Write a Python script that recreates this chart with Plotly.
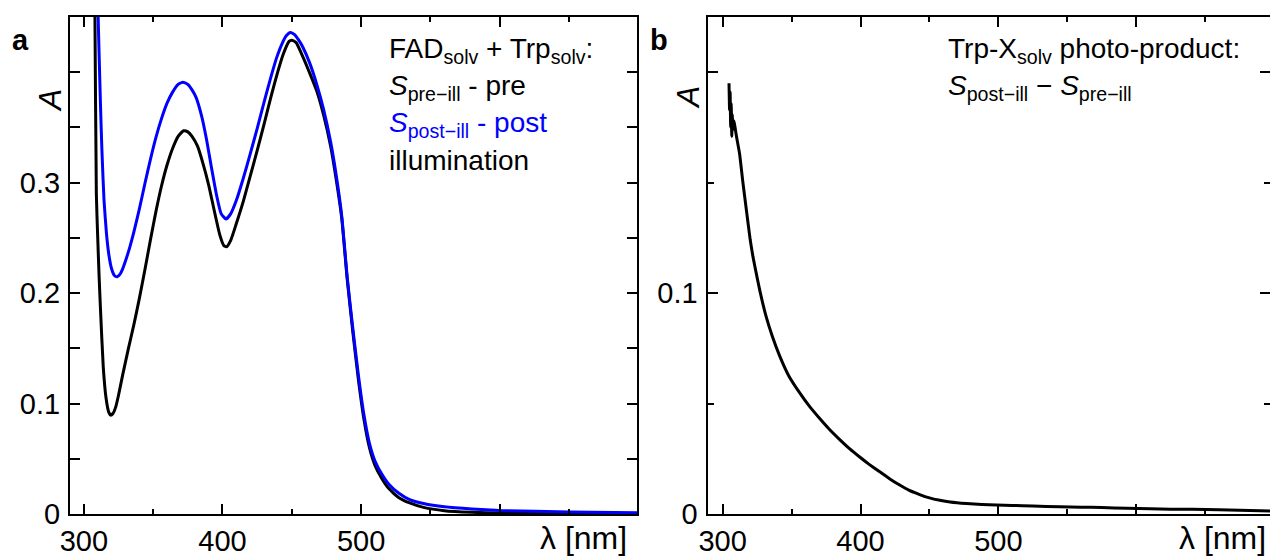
import plotly.graph_objects as go

# ---------------- data: panel a (FAD + Trp, pre / post illumination) ----------------
lam_pre = [300, 305, 307, 308, 309, 310, 311, 312, 314, 316, 318, 319.3, 321, 323, 325, 328,
           332, 336, 340, 344, 348, 352, 356, 360, 364, 368, 372, 375, 378, 382, 386, 390,
           394, 398, 401, 403, 406, 410, 415, 420, 425, 430, 435, 440, 444, 448, 450, 453,
           458, 463, 468, 473, 478, 482, 486, 490, 494, 498, 502, 506, 510, 515, 520, 527,
           535, 545, 560, 580, 600, 650, 700]
a_pre = [1.0, 0.75, 0.55, 0.45, 0.29, 0.25, 0.215, 0.185, 0.133, 0.105, 0.092, 0.0895, 0.091, 0.097, 0.1075, 0.126,
         0.149, 0.171, 0.195, 0.221, 0.248, 0.274, 0.297, 0.316, 0.331, 0.342, 0.347, 0.346, 0.342, 0.333, 0.317, 0.298,
         0.275, 0.253, 0.243, 0.242, 0.248, 0.263, 0.283, 0.306, 0.329, 0.353, 0.378, 0.401, 0.417, 0.428, 0.429, 0.427,
         0.414, 0.399, 0.383, 0.361, 0.333, 0.303, 0.268, 0.212, 0.165, 0.122, 0.086, 0.060, 0.044, 0.032, 0.023, 0.015,
         0.010, 0.006, 0.003, 0.0015, 0.0008, 0.0003, 0.0002]

lam_post = [300, 305, 308, 310.3, 312, 313, 314.5, 316.3, 318, 320, 322, 324, 326, 328, 330, 333,
            336, 340, 344, 348, 352, 356, 360, 364, 368, 371.5, 375, 378, 381, 385, 388.5, 392,
            396, 399, 402.5, 406, 410, 415, 420, 425, 430, 435, 439, 443, 446, 449, 452, 455,
            458, 463, 468, 473, 478, 482, 486, 490, 494, 498, 502, 506, 510, 515, 520, 527,
            535, 545, 560, 580, 600, 650, 700]
a_post = [1.0, 0.85, 0.6, 0.45, 0.37, 0.33, 0.285, 0.254, 0.235, 0.222, 0.216, 0.2148, 0.217, 0.222, 0.229, 0.241,
          0.255, 0.276, 0.299, 0.321, 0.341, 0.358, 0.372, 0.382, 0.389, 0.391, 0.389, 0.384, 0.377, 0.360, 0.339, 0.314,
          0.287, 0.272, 0.267, 0.272, 0.284, 0.304, 0.326, 0.349, 0.373, 0.396, 0.413, 0.426, 0.433, 0.436, 0.434, 0.429,
          0.4226, 0.408, 0.389, 0.366, 0.337, 0.307, 0.270, 0.214, 0.168, 0.126, 0.090, 0.064, 0.048, 0.036, 0.027, 0.019,
          0.013, 0.0095, 0.0065, 0.0045, 0.0032, 0.0018, 0.0012]

# ---------------- data: panel b (difference spectrum, photo-product) ----------------
lam_diff = [304.6, 305.0, 305.4, 305.8, 306.2, 306.6, 307.0, 307.5, 308.2, 309, 310, 312.3, 314.5, 317.2,
            320, 322, 325, 327, 331.7, 336, 341.4, 348, 355.9, 363, 370.4, 377, 384.9, 392, 399.4,
            406, 413.9, 421, 428.4, 435, 442.9, 450, 457.5, 465, 476.8, 488, 498.6, 510, 525, 544.6,
            560, 575, 593, 610, 625, 641, 660, 675, 690, 697]
a_diff = [0.195, 0.183, 0.191, 0.175, 0.186, 0.171, 0.181, 0.174, 0.178, 0.175, 0.171, 0.163, 0.151, 0.1376,
          0.124, 0.1164, 0.107, 0.101, 0.089, 0.0805, 0.0715, 0.0625, 0.0548, 0.0487, 0.0432, 0.0386, 0.0337, 0.0296, 0.0258,
          0.0226, 0.0191, 0.0160, 0.0131, 0.0108, 0.0088, 0.0073, 0.0062, 0.0054, 0.0047, 0.0043, 0.0041, 0.0039, 0.0036, 0.0033,
          0.0031, 0.0029, 0.0026, 0.0024, 0.0022, 0.0021, 0.0019, 0.0017, 0.0015, 0.0014]

# tick definitions
x_major = [300, 400, 500, 600, 700]
x_major_text = ["300", "400", "500", "", ""]
x_minor = [350, 450, 550, 650]
ya_vals = [0, 0.05, 0.1, 0.15, 0.2, 0.25, 0.3, 0.35, 0.4, 0.45]
ya_text = ["0", "", "0.1", "", "0.2", "", "0.3", "", "", ""]
yb_major = [0, 0.1, 0.2]
yb_text = ["0", "0.1", ""]
yb_minor = [0.05, 0.15]

W, H = 1270, 559
FONT = "Liberation Sans, Arial, sans-serif"
TICKFONT = dict(family=FONT, size=29, color="black")

fig = go.Figure()
fig.add_trace(go.Scatter(x=lam_pre, y=a_pre, mode="lines",
                         line=dict(color="black", width=3, shape="spline", smoothing=0.5),
                         xaxis="x", yaxis="y", showlegend=False))
fig.add_trace(go.Scatter(x=lam_post, y=a_post, mode="lines",
                         line=dict(color="#0000ff", width=3, shape="spline", smoothing=0.5),
                         xaxis="x", yaxis="y", showlegend=False))
fig.add_trace(go.Scatter(x=lam_diff, y=a_diff, mode="lines",
                         line=dict(color="black", width=3, shape="spline", smoothing=0.4),
                         xaxis="x2", yaxis="y2", showlegend=False))

def px_x(p):
    return p / W

def px_y(p):
    return 1 - p / H

common_x = dict(showline=True, linecolor="black", linewidth=2, mirror="ticks",
                ticks="inside", ticklen=10, tickwidth=2, tickcolor="black",
                tickmode="array", tickvals=x_major, ticktext=x_major_text,
                minor=dict(tickmode="array", tickvals=x_minor, ticks="inside", ticklen=5,
                           tickwidth=2, tickcolor="black"),
                showgrid=False, zeroline=False, tickfont=TICKFONT, ticklabelstandoff=0,
                automargin=False)

common_y = dict(showline=True, linecolor="black", linewidth=2, mirror="ticks",
                ticks="inside", ticklen=10, tickwidth=2, tickcolor="black",
                tickmode="array", showgrid=False, zeroline=False, tickfont=TICKFONT,
                automargin=False, ticklabelstandoff=2)

fig.update_layout(
    width=W, height=H,
    margin=dict(l=0, r=0, t=0, b=0),
    paper_bgcolor="white", plot_bgcolor="white",
    xaxis=dict(domain=[px_x(70), px_x(637)], range=[290, 699], anchor="y", **common_x),
    xaxis2=dict(domain=[px_x(707.5), 1.0], range=[289, 697], anchor="y2", **common_x),
    yaxis=dict(domain=[px_y(514), px_y(17)], range=[0, 0.45], anchor="x",
               tickvals=ya_vals, ticktext=ya_text, **common_y),
    yaxis2=dict(domain=[px_y(514), px_y(17)], range=[0, 0.225], anchor="x2",
                tickvals=yb_major, ticktext=yb_text,
                minor=dict(tickmode="array", tickvals=yb_minor, ticks="inside", ticklen=6,
                           tickwidth=2, tickcolor="black"),
                **common_y),
)

TXT = dict(family=FONT, size=28, color="black")

def ann(x, y, text, xanchor="left", font=None, textangle=0):
    fig.add_annotation(x=px_x(x), y=px_y(y), xref="paper", yref="paper", text=text,
                       showarrow=False, xanchor=xanchor, yanchor="middle",
                       font=font or TXT, textangle=textangle)

# panel labels
ann(10, 40, "<b>a</b>", font=dict(family=FONT, size=29, color="black"))
ann(648, 40, "<b>b</b>", font=dict(family=FONT, size=29, color="black"))

# y axis labels (A)
ann(50, 101, "<i>A</i>", xanchor="center", font=dict(family=FONT, size=32, color="black"), textangle=-90)
ann(688, 98, "<i>A</i>", xanchor="center", font=dict(family=FONT, size=32, color="black"), textangle=-90)

# x axis labels
ann(629, 538, "λ [nm]", xanchor="right", font=dict(family=FONT, size=32, color="black"))
ann(1268, 538, "λ [nm]", xanchor="right", font=dict(family=FONT, size=32, color="black"))

# panel a annotation text
ann(387, 50, "FAD<sub>solv</sub> + Trp<sub>solv</sub>:")
ann(387, 87, "<i>S</i><sub>pre−ill</sub> - pre")
ann(387, 124, "<i>S</i><sub>post−ill</sub> - post", font=dict(family=FONT, size=28, color="#0000ff"))
ann(387, 160, "illumination")

# panel b annotation text
ann(946, 50, "Trp-X<sub>solv</sub> photo-product:")
ann(946, 87, "<i>S</i><sub>post−ill</sub> − <i>S</i><sub>pre−ill</sub>")

fig.write_html("out.html")
